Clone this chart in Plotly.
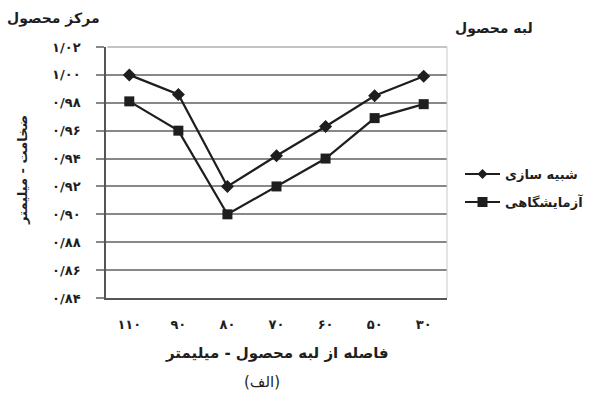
import plotly.graph_objects as go

# Distance from product edge (mm), shown as Persian numerals
x_labels = ["۱۱۰", "۹۰", "۸۰", "۷۰", "۶۰", "۵۰", "۳۰"]

# Thickness (mm) for each series
simulation = [1.000, 0.986, 0.920, 0.942, 0.963, 0.985, 0.999]
laboratory = [0.981, 0.960, 0.900, 0.920, 0.940, 0.969, 0.979]

series_names = ["شبیه سازی", "آزمایشگاهی"]

y_tick_vals = [0.84, 0.86, 0.88, 0.90, 0.92, 0.94, 0.96, 0.98, 1.00, 1.02]
y_tick_text = ["۰/۸۴", "۰/۸۶", "۰/۸۸", "۰/۹۰", "۰/۹۲", "۰/۹۴",
               "۰/۹۶", "۰/۹۸", "۱/۰۰", "۱/۰۲"]

W, H = 590, 413
L, R, T, B = 106, 143, 47, 115
PW, PH = W - L - R, H - T - B

FONT = "DejaVu Sans"
INK = "#1e1e1e"


def px(x):
    return (x - L) / PW


def py(y):
    return (H - B - y) / PH


fig = go.Figure()

fig.add_trace(go.Scatter(
    x=x_labels, y=simulation, mode="lines+markers", name=series_names[0],
    line=dict(color=INK, width=2.2),
    marker=dict(symbol="diamond", size=10, color=INK),
    showlegend=False,
))
fig.add_trace(go.Scatter(
    x=x_labels, y=laboratory, mode="lines+markers", name=series_names[1],
    line=dict(color=INK, width=2.2),
    marker=dict(symbol="square", size=10, color=INK),
    showlegend=False,
))

bold_tick = dict(size=13, family=FONT, color=INK, weight="bold")

fig.update_layout(
    width=W, height=H,
    margin=dict(l=L, r=R, t=T, b=B),
    paper_bgcolor="white", plot_bgcolor="white",
    font=dict(family=FONT, color=INK),
    xaxis=dict(
        type="category", showgrid=False, zeroline=False,
        showline=True, linecolor="#555", linewidth=1.5,
        ticks="", tickfont=bold_tick,
        ticklabelstandoff=14,
    ),
    yaxis=dict(
        range=[0.84, 1.02], tickvals=y_tick_vals, ticktext=y_tick_text,
        showgrid=True, gridcolor="#888888", gridwidth=1.5,
        zeroline=False, showline=True, linecolor="#555", linewidth=1.5,
        ticks="outside", ticklen=8, tickcolor="#888888", tickwidth=1.5,
        tickfont=bold_tick,
        ticklabelstandoff=13,
    ),
)

# lighter top edge and faint right border of the plot area
fig.add_shape(type="line", xref="paper", yref="paper", x0=0.004, x1=1, y0=1, y1=1,
              line=dict(color="#c4c4c4", width=2), layer="below")
fig.add_shape(type="line", xref="paper", yref="paper", x0=1, x1=1, y0=0, y1=1,
              line=dict(color="#c8c8c8", width=1))


def label(text, x, y, size, bold=True, angle=0, xanchor="center"):
    fig.add_annotation(text=text, x=px(x), y=py(y), xref="paper", yref="paper",
                       xanchor=xanchor, yanchor="middle", showarrow=False,
                       textangle=angle,
                       font=dict(size=size, family=FONT, color=INK,
                                 weight="bold" if bold else "normal"))


label("مرکز محصول", 53, 18, 14)
label("لبه محصول", 494, 28, 14)
label("فاصله از لبه محصول - میلیمتر", 277, 353, 15)
label("(الف)", 262, 382, 15, bold=False)
label("ضخامت - میلیمتر", 22, 170, 13, angle=-90)

# legend: line sample with marker, then the series name to its right
KEY_X0, KEY_X1, TEXT_X = 465, 500, 503
legend_rows = [(series_names[0], 174, "diamond"), (series_names[1], 202, "square")]
for name, yy, sym in legend_rows:
    label(name, TEXT_X, yy, 13, xanchor="left")
    fig.add_shape(type="line", xref="paper", yref="paper",
                  x0=px(KEY_X0), x1=px(KEY_X1), y0=py(yy), y1=py(yy),
                  line=dict(color=INK, width=2))
    cx = (KEY_X0 + KEY_X1) / 2
    if sym == "diamond":
        path = "M %f,%f L %f,%f L %f,%f L %f,%f Z" % (
            px(cx - 5), py(yy), px(cx), py(yy - 5),
            px(cx + 5), py(yy), px(cx), py(yy + 5))
        fig.add_shape(type="path", xref="paper", yref="paper", path=path,
                      fillcolor=INK, line=dict(color=INK, width=0))
    else:
        fig.add_shape(type="rect", xref="paper", yref="paper",
                      x0=px(cx - 5), x1=px(cx + 5), y0=py(yy + 5), y1=py(yy - 5),
                      fillcolor=INK, line=dict(color=INK, width=0))

fig.write_html("out.html")
